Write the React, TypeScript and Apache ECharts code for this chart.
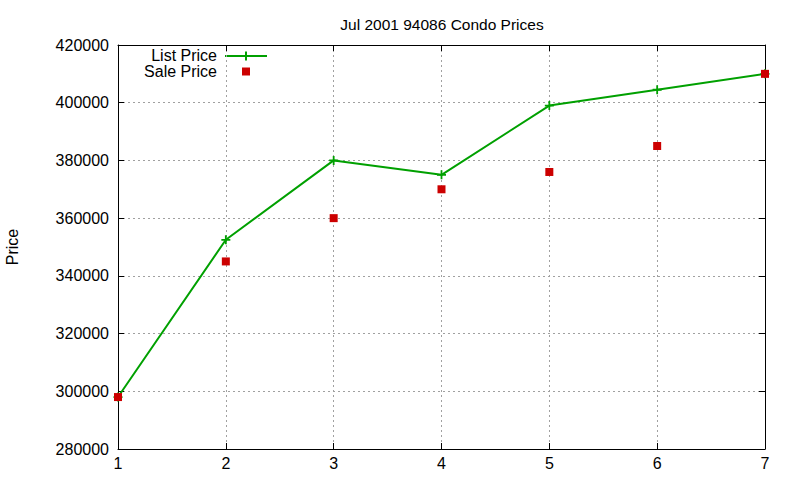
import React, { useEffect, useRef } from "react";
import * as echarts from "echarts";

const xValues = [1, 2, 3, 4, 5, 6, 7];
const listPrice = [298000, 352500, 380000, 375000, 399000, 404500, 410000];
const salePrice = [298000, 345000, 360000, 370000, 376000, 385000, 410000];
const titleText = "Jul 2001 94086 Condo Prices";
const yAxisName = "Price";
const seriesNames = ["List Price", "Sale Price"];

const GREEN = "#00a000";
const RED = "#cc0000";
const FONT = "'Liberation Sans', Arial, sans-serif";
const PLUS = "path://M4,0H6V4H10V6H6V10H4V6H0V4H4Z";

export default function App() {
  const ref = useRef<HTMLDivElement>(null);
  useEffect(() => {
    if (!ref.current) return;
    const chart = echarts.init(ref.current, null, { renderer: "svg" });
    const gridLine = { show: true, lineStyle: { color: "#a0a0a0", type: [2, 3], width: 1 } };
    const axisLine = { show: true, onZero: false, lineStyle: { color: "#000", width: 1 } };
    const tick = { show: true, inside: true, length: 6, lineStyle: { color: "#000" } };
    chart.setOption({
      animation: false,
      backgroundColor: "#fff",
      textStyle: { fontFamily: FONT },
      title: {
        text: titleText,
        left: 437,
        top: 11,
        textAlign: "center",
        textStyle: { fontSize: 15.5, fontWeight: "normal", color: "#000", fontFamily: FONT },
      },
      grid: { left: 118, right: 35, top: 45, bottom: 31, containLabel: false, outerBoundsMode: "none" },
      xAxis: [
        {
          type: "value",
          min: 1,
          max: 7,
          interval: 1,
          axisLine,
          axisTick: tick,
          splitLine: gridLine,
          axisLabel: { color: "#000", fontSize: 16, margin: 6, fontFamily: FONT, formatter: (v: number) => String(v) },
        },
        {
          type: "value",
          position: "top",
          min: 1,
          max: 7,
          interval: 1,
          axisLine,
          axisTick: tick,
          splitLine: { show: false },
          axisLabel: { show: false },
        },
      ],
      yAxis: [
        {
          type: "value",
          min: 280000,
          max: 420000,
          interval: 20000,
          name: yAxisName,
          nameLocation: "middle",
          nameRotate: 90,
          nameGap: 98,
          nameTextStyle: { color: "#000", fontSize: 16, fontFamily: FONT },
          axisLine,
          axisTick: tick,
          splitLine: gridLine,
          axisLabel: { color: "#000", fontSize: 16, margin: 9, fontFamily: FONT, formatter: (v: number) => String(v) },
        },
        {
          type: "value",
          position: "right",
          min: 280000,
          max: 420000,
          interval: 20000,
          axisLine,
          axisTick: tick,
          splitLine: { show: false },
          axisLabel: { show: false },
        },
      ],
      series: [
        {
          name: seriesNames[0],
          type: "line",
          data: xValues.map((x, i) => [x, listPrice[i]]),
          lineStyle: { color: GREEN, width: 2 },
          itemStyle: { color: GREEN, opacity: 1 },
          symbol: PLUS,
          symbolSize: 9,
          showSymbol: true,
          z: 3,
        },
        {
          name: seriesNames[1],
          type: "scatter",
          data: xValues.map((x, i) => [x, salePrice[i]]),
          itemStyle: { color: RED, opacity: 1 },
          symbol: "rect",
          symbolSize: 8,
          z: 4,
        },
      ],
      graphic: [
        {
          type: "text",
          x: 217,
          y: 55,
          style: {
            text: seriesNames[0],
            fontSize: 16,
            lineHeight: 15,
            fill: "#000",
            fontFamily: FONT,
            textAlign: "right",
            textVerticalAlign: "middle",
          },
        },
        {
          type: "text",
          x: 217,
          y: 71,
          style: {
            text: seriesNames[1],
            fontSize: 16,
            lineHeight: 15,
            fill: "#000",
            fontFamily: FONT,
            textAlign: "right",
            textVerticalAlign: "middle",
          },
        },
        {
          type: "line",
          shape: { x1: 225, y1: 56, x2: 267, y2: 56 },
          style: { stroke: GREEN, lineWidth: 2 },
        },
        {
          type: "line",
          shape: { x1: 246, y1: 51.5, x2: 246, y2: 60.5 },
          style: { stroke: GREEN, lineWidth: 2 },
        },
        {
          type: "rect",
          shape: { x: 242, y: 67.5, width: 8, height: 8 },
          style: { fill: RED },
        },
      ],
    });
    return () => chart.dispose();
  }, []);
  return <div ref={ref} style={{ width: 800, height: 480, position: "absolute", left: 0, top: 0 }} />;
}
